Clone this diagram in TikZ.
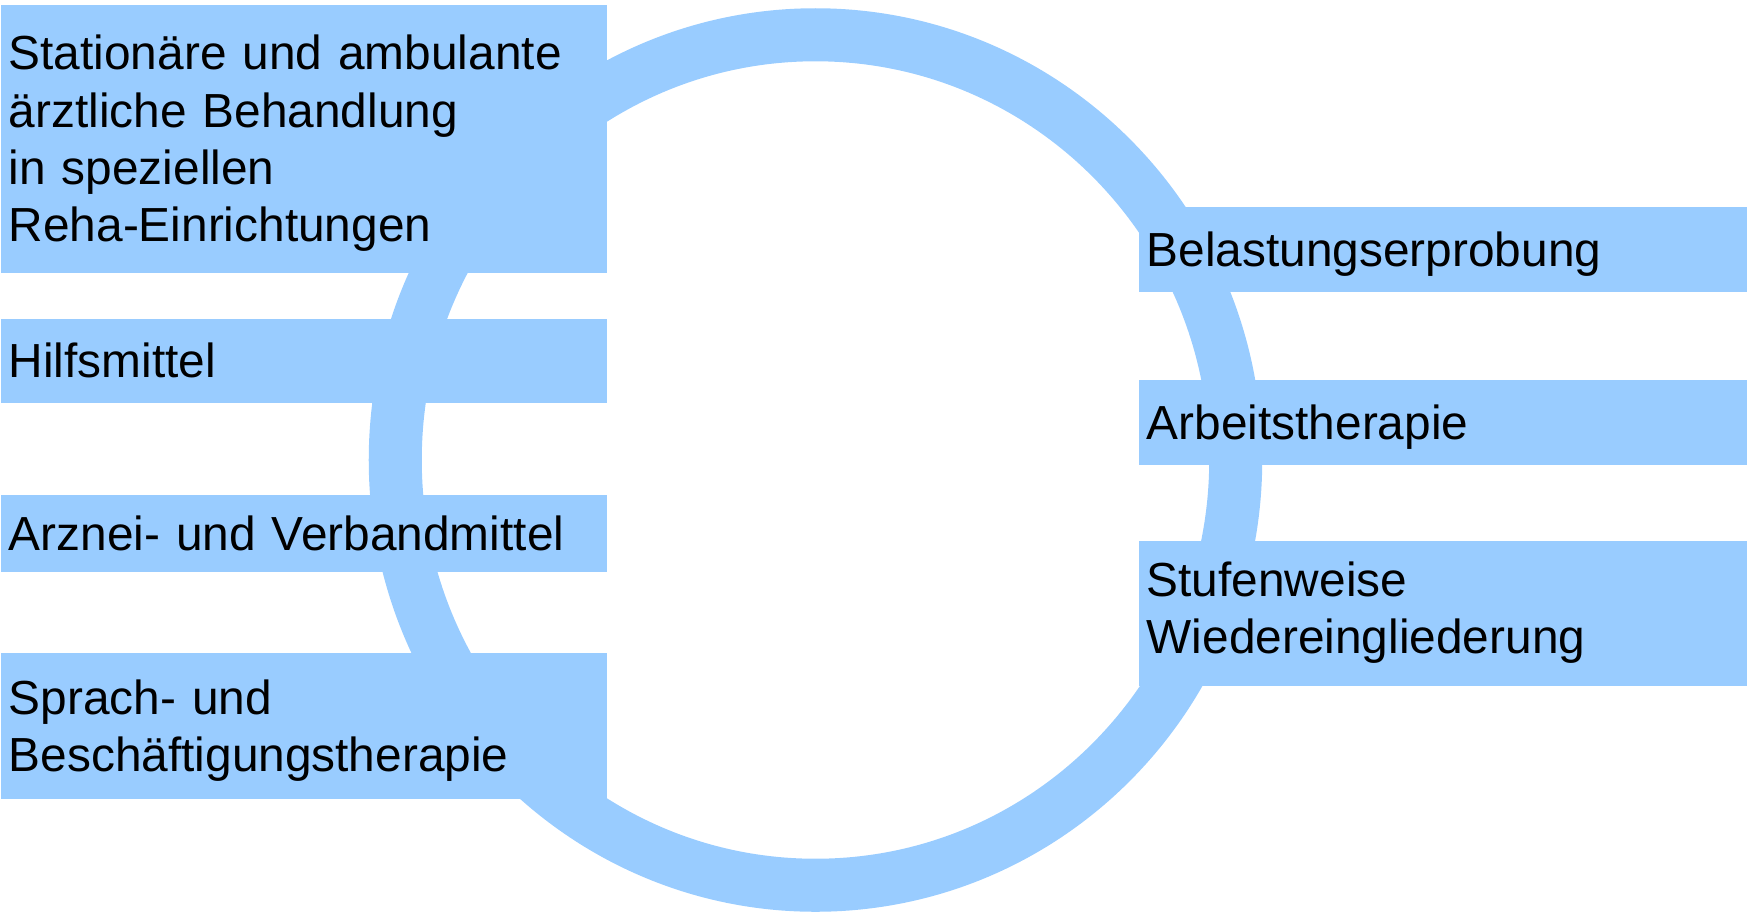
\documentclass[tikz,border=0pt]{standalone}
\usepackage{fontspec}
\setmainfont{Liberation Sans}
\definecolor{rehablue}{HTML}{99CCFF}

\begin{document}
\begin{tikzpicture}[x=0.01cm, y=-0.01cm,
    lbox/.style={fill=rehablue, anchor=north west, inner xsep=0.08cm, inner ysep=0pt,
                 minimum width=6.06cm, text width=5.9cm, align=left,
                 text height=9.74pt, text depth=0pt,
                 font=\fontsize{13.6}{16.3}\selectfont},
    rbox/.style={lbox, minimum width=6.09cm, text width=5.93cm}]
  \useasboundingbox (0,0) rectangle (1747,914);
  \draw [rehablue, line width=0.53cm] (815.5,460) ellipse [x radius=4.2cm, y radius=4.25cm];
  \node [lbox, minimum height=2.68cm, text depth=48.9pt] (stationaer) at (0,4)
        {Stationäre und ambulante\\ärztliche Behandlung\\in speziellen\\Reha-Einrichtungen};
  \node [lbox, minimum height=0.84cm] (hilfsmittel) at (0,318) {Hilfsmittel};
  \node [lbox, minimum height=0.77cm] (arznei) at (0,494) {Arznei- und Verbandmittel};
  \node [lbox, minimum height=1.46cm, text depth=16.3pt] (sprach) at (0,652)
        {Sprach- und\\Beschäftigungstherapie};
  \node [rbox, minimum height=0.85cm] (belastung) at (1138,206) {Belastungserprobung};
  \node [rbox, minimum height=0.85cm] (arbeit) at (1138,379) {Arbeitstherapie};
  \node [rbox, minimum height=1.45cm, text depth=19.4pt] (stufen) at (1138,540)
        {Stufenweise\\Wiedereingliederung};
\end{tikzpicture}
\end{document}
